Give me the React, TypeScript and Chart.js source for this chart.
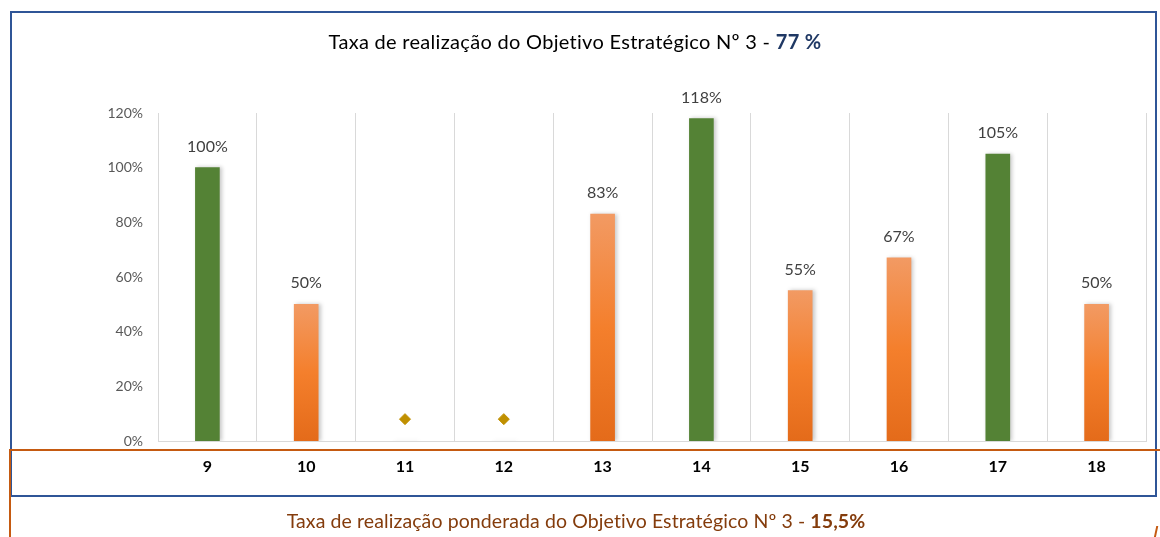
import React, { useEffect, useRef } from "react";
import { Chart, registerables } from "chart.js";

Chart.register(...registerables);

const categories = ["9", "10", "11", "12", "13", "14", "15", "16", "17", "18"];
const rates = [100, 50, 0, 0, 83, 118, 55, 67, 105, 50];
const markers = [null, null, 8, 8, null, null, null, null, null, null];
const yTicks = [0, 20, 40, 60, 80, 100, 120];
const titleMain = "Taxa de realização do Objetivo Estratégico Nº 3 - ";
const titleValue = "77 %";
const footMain = "Taxa de realização ponderada do Objetivo Estratégico Nº 3 - ";
const footValue = "15,5%";

const FONT = "Lato, 'Open Sans', sans-serif";

export default function App() {
  const ref = useRef<HTMLCanvasElement>(null);

  useEffect(() => {
    const canvas = ref.current!;
    const labelPlugin = {
      id: "barLabels",
      afterDatasetsDraw(chart: any) {
        const ctx = chart.ctx;
        const meta = chart.getDatasetMeta(0);
        ctx.save();
        ctx.font = `16px ${FONT}`;
        ctx.fillStyle = "#404040";
        ctx.textAlign = "center";
        ctx.textBaseline = "middle";
        meta.data.forEach((bar: any, i: number) => {
          const v = rates[i];
          if (v > 0) ctx.fillText(`${v}%`, bar.x, bar.y - 21);
        });
        ctx.restore();
      },
    };
    const shadowPlugin = {
      id: "barShadow",
      beforeDatasetDraw(chart: any, args: any) {
        if (args.index === 0) {
          chart.ctx.save();
          chart.ctx.shadowColor = "rgba(0,0,0,0.22)";
          chart.ctx.shadowBlur = 4;
          chart.ctx.shadowOffsetX = 2;
          chart.ctx.shadowOffsetY = 0;
        }
      },
      afterDatasetDraw(chart: any, args: any) {
        if (args.index === 0) chart.ctx.restore();
      },
    };

    const chart = new Chart(canvas, {
      type: "bar",
      data: {
        labels: categories,
        datasets: [
          {
            type: "bar",
            data: rates,
            barThickness: 24,
            order: 2,
            backgroundColor: (c: any) => {
              const v = rates[c.dataIndex];
              if (v >= 100) return "#548235";
              if (v === 0) return "rgba(240,240,240,0.6)";
              const chartRef = c.chart;
              const ys = chartRef.scales?.y;
              if (!ys) return "#f07c2c";
              const top = ys.getPixelForValue(v);
              const bottom = ys.getPixelForValue(0);
              if (!isFinite(top) || top === bottom) return "#f07c2c";
              const g = chartRef.ctx.createLinearGradient(0, top, 0, bottom);
              g.addColorStop(0, "#f29a63");
              g.addColorStop(0.5, "#f47f2c");
              g.addColorStop(1, "#e46b1a");
              return g;
            },
          },
          {
            type: "line",
            data: markers,
            showLine: false,
            order: 1,
            pointStyle: "rectRot",
            pointRadius: 5.5,
            pointBackgroundColor: "#c09000",
            pointBorderColor: "#c09000",
          } as any,
        ],
      },
      options: {
        responsive: false,
        animation: false,
        layout: { padding: { left: 0, top: 113, right: 14, bottom: 0 } },
        plugins: { legend: { display: false }, tooltip: { enabled: false } },
        scales: {
          x: {
            offset: true,
            grid: { display: true, color: "#d9d9d9", drawTicks: false, offset: true },
            border: { display: true, color: "#d9d9d9", width: 1 },
            ticks: { color: "#000000", font: { family: FONT, size: 16, weight: "bold" }, padding: 16 },
            afterFit: (s: any) => { s.height = 96; },
          },
          y: {
            min: 0,
            max: 120,
            grid: { display: false, drawTicks: false },
            border: { display: false },
            afterBuildTicks: (s: any) => { s.ticks = yTicks.map((v) => ({ value: v })); },
            ticks: {
              color: "#595959",
              font: { family: FONT, size: 14 },
              padding: 15,
              callback: (v: any) => `${v}%`,
            },
            afterFit: (s: any) => { s.width = 158; },
          },
        },
      },
      plugins: [shadowPlugin, labelPlugin],
    } as any);
    return () => chart.destroy();
  }, []);

  return (
    <div style={{ position: "absolute", left: 0, top: 0, width: 1160, height: 537, background: "#fff", overflow: "hidden", fontFamily: FONT }}>
      <canvas ref={ref} width={1160} height={537} style={{ position: "absolute", left: 0, top: 0 }} />
      <div style={{ position: "absolute", left: 10, top: 11, width: 1147, height: 486, border: "2px solid #2f5597", boxSizing: "border-box", pointerEvents: "none" }} />
      <div style={{ position: "absolute", left: 10, top: 449, width: 1150, height: 2, background: "#c55a11" }} />
      <div style={{ position: "absolute", left: 9, top: 449, width: 2, height: 90, background: "#c55a11" }} />
      <div style={{ position: "absolute", left: 1155, top: 526, width: 2, height: 12, background: "#c55a11", transform: "skewX(-12deg)" }} />
      <div style={{ position: "absolute", left: 0, top: 29, width: 1150, textAlign: "center", fontSize: 20, letterSpacing: 0.3, color: "#000", whiteSpace: "nowrap" }}>
        {titleMain}
        <b style={{ color: "#1f3864" }}>{titleValue}</b>
      </div>
      <div style={{ position: "absolute", left: 0, top: 509, width: 1152, textAlign: "center", fontSize: 19.5, letterSpacing: 0.1, color: "#843c0c", whiteSpace: "nowrap" }}>
        {footMain}
        <b>{footValue}</b>
      </div>
    </div>
  );
}
